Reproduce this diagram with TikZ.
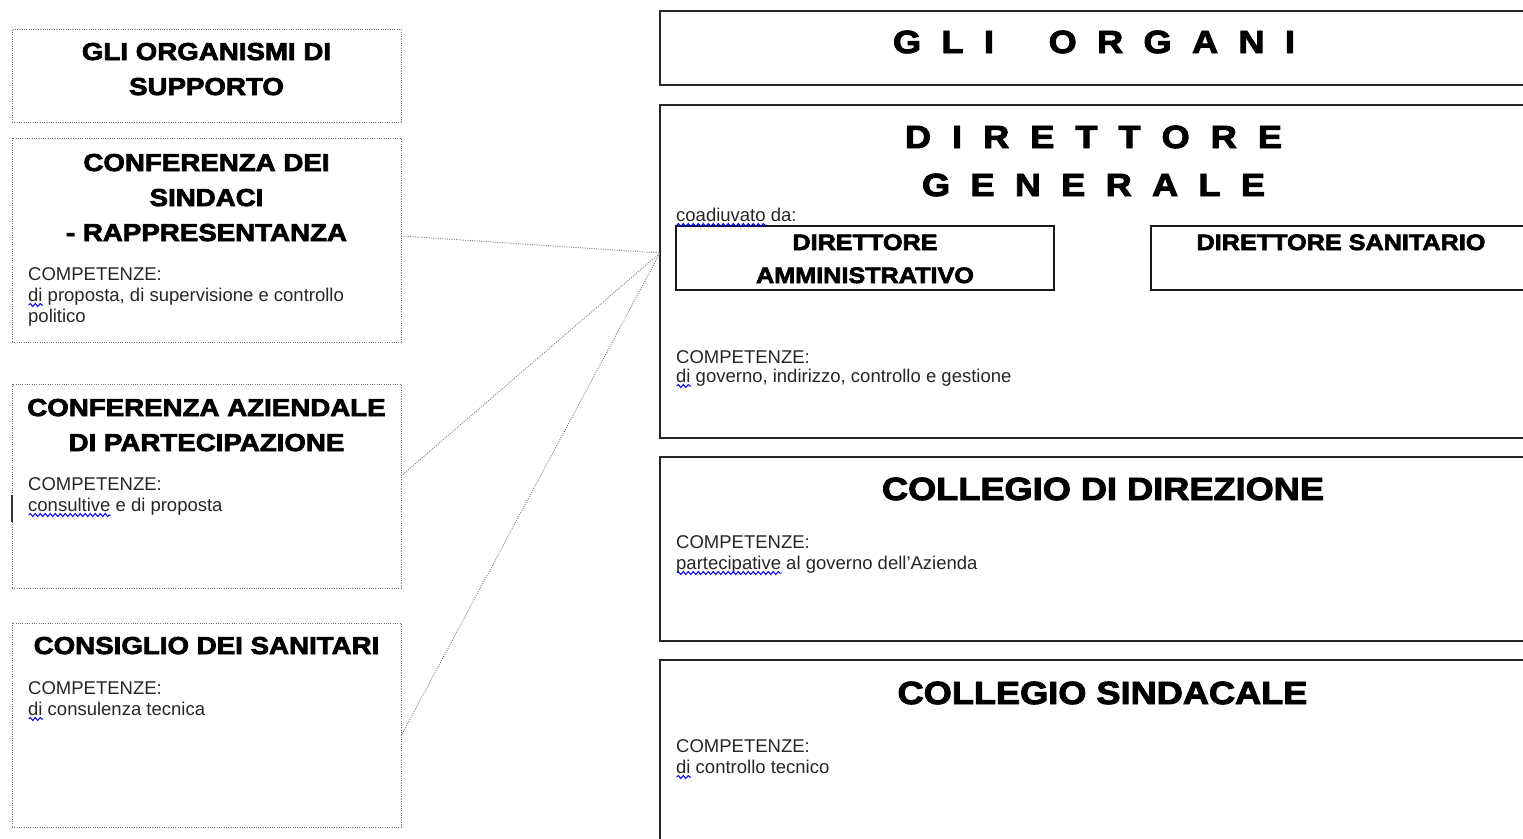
\documentclass[tikz,border=0pt]{standalone}
\usepackage{fontspec}
\setmainfont{Liberation Sans}
\newfontfamily\blk{Liberation Sans}[FakeStretch=1.13, BoldFeatures={FakeBold=3}]
\usetikzlibrary{decorations.pathmorphing}
\newsavebox\sqbox
\newcommand\sq[1]{\sbox\sqbox{#1}\rlap{\usebox\sqbox}\rlap{\raisebox{-4pt}{\tikz[x=1pt,y=1pt,baseline=0pt]\draw[blue!90!black, line width=1pt, decorate, decoration={snake, amplitude=1.5pt, segment length=5pt}] (0,0) -- (\the\wd\sqbox,0);}}\hspace{\wd\sqbox}}
\begin{document}
\begin{tikzpicture}[x=1pt,y=-1pt,
  lbox/.style={draw=black!55, dash pattern=on 1pt off 1.3pt, line width=1pt, inner sep=0pt, rectangle},
  rbox/.style={draw=black!85, line width=1.7pt, inner sep=0pt, rectangle},
  ibox/.style={draw=black!90, line width=1.4pt, inner sep=0pt, rectangle},
  conn/.style={draw=black!50, dash pattern=on 1pt off 1.3pt, line width=0.9pt},
  ttl/.style={font=\blk\bfseries\fontsize{24.5}{30}\selectfont, anchor=base, inner sep=0pt, text=black},
  rttl/.style={font=\blk\bfseries\fontsize{32}{36}\selectfont, anchor=base, inner sep=0pt, text=black},
  ittl/.style={font=\blk\bfseries\fontsize{22.3}{28}\selectfont, anchor=base, inner sep=0pt, text=black},
  body/.style={font=\fontsize{18.5}{21}\selectfont, anchor=base west, inner sep=0pt, text=black!85}
]
\useasboundingbox (0,0) rectangle (1523,838);
\clip (0,0) rectangle (1523,838);

% left dotted boxes
\node[lbox, minimum width=389pt, minimum height=93pt]  (sup) at (206.5,75.5) {};
\node[lbox, minimum width=389pt, minimum height=204pt] (cds) at (206.5,240) {};
\node[lbox, minimum width=389pt, minimum height=204pt] (cap) at (206.5,486) {};
\node[lbox, minimum width=389pt, minimum height=204pt] (cs)  at (206.5,725) {};

\node[ttl] (sup1) at (206.5,60) {GLI ORGANISMI DI};
\node[ttl] (sup2) at (206.5,95) {SUPPORTO};

\node[ttl] (cds1) at (206.5,171) {CONFERENZA DEI};
\node[ttl] (cds2) at (206.5,206) {SINDACI};
\node[ttl] (cds3) at (206.5,241) {- RAPPRESENTANZA};
\node[body] (cdsb1) at (28,280) {COMPETENZE:};
\node[body] (cdsb2) at (28,301) {\sq{di} proposta, di supervisione e controllo};
\node[body] (cdsb3) at (28,322) {politico};

\node[ttl] (cap1) at (206.5,416) {CONFERENZA AZIENDALE};
\node[ttl] (cap2) at (206.5,451) {DI PARTECIPAZIONE};
\node[body] (capb1) at (28,490) {COMPETENZE:};
\node[body] (capb2) at (28,511) {\sq{consultive} e di proposta};
\draw[black!80, line width=1.2pt] (12,495) -- (12,522);

\node[ttl] (cs1) at (206.5,654) {CONSIGLIO DEI SANITARI};
\node[body] (csb1) at (28,694) {COMPETENZE:};
\node[body] (csb2) at (28,715) {\sq{di} consulenza tecnica};

% right boxes
\node[rbox, minimum width=885pt, minimum height=74pt]  (org) at (1102.5,48) {};
\node[rbox, minimum width=885pt, minimum height=333pt] (dg)  at (1102.5,271.5) {};
\node[rbox, minimum width=885pt, minimum height=184pt] (cdir) at (1102.5,549) {};
\node[rbox, minimum width=885pt, minimum height=260pt] (csin) at (1102.5,790) {};
\node[ibox, minimum width=378pt, minimum height=64pt]  (da) at (865,258) {};
\node[ibox, minimum width=380pt, minimum height=64pt]  (ds) at (1341,258) {};

\node[rttl] (orgt) at (1094,53) {\makebox[402pt][s]{G\hfill L\hfill I\hfill\hspace{14pt}\hfill O\hfill R\hfill G\hfill A\hfill N\hfill I}};
\node[rttl] (dgt1) at (1093.5,148) {\makebox[377pt][s]{D\hfill I\hfill R\hfill E\hfill T\hfill T\hfill O\hfill R\hfill E}};
\node[rttl] (dgt2) at (1093.5,196) {\makebox[343pt][s]{G\hfill E\hfill N\hfill E\hfill R\hfill A\hfill L\hfill E}};
\node[body] (coad) at (676,221) {\sq{coadiuvato} da:};
\node[ittl] (da1) at (865,250) {DIRETTORE};
\node[ittl] (da2) at (865,283) {AMMINISTRATIVO};
\node[ittl] (ds1) at (1341,250) {DIRETTORE SANITARIO};
\node[body] (dgb1) at (676,363) {COMPETENZE:};
\node[body] (dgb2) at (676,382) {\sq{di} governo, indirizzo, controllo e gestione};

\node[rttl] (cdirt) at (1103,500) {COLLEGIO DI DIREZIONE};
\node[body] (cdirb1) at (676,548) {COMPETENZE:};
\node[body] (cdirb2) at (676,569) {\sq{partecipative} al governo dell'Azienda};

\node[rttl] (csint) at (1102.5,704) {COLLEGIO SINDACALE};
\node[body] (csinb1) at (676,752) {COMPETENZE:};
\node[body] (csinb2) at (676,773) {\sq{di} controllo tecnico};

% connectors
\coordinate (dgw) at (660,253);
\coordinate (c2) at (401,236);
\coordinate (c3) at (401,476);
\coordinate (c4) at (401,736);
\draw[conn] (c2) -- (dgw);
\draw[conn] (c3) -- (dgw);
\draw[conn] (c4) -- (dgw);
\end{tikzpicture}
\end{document}
